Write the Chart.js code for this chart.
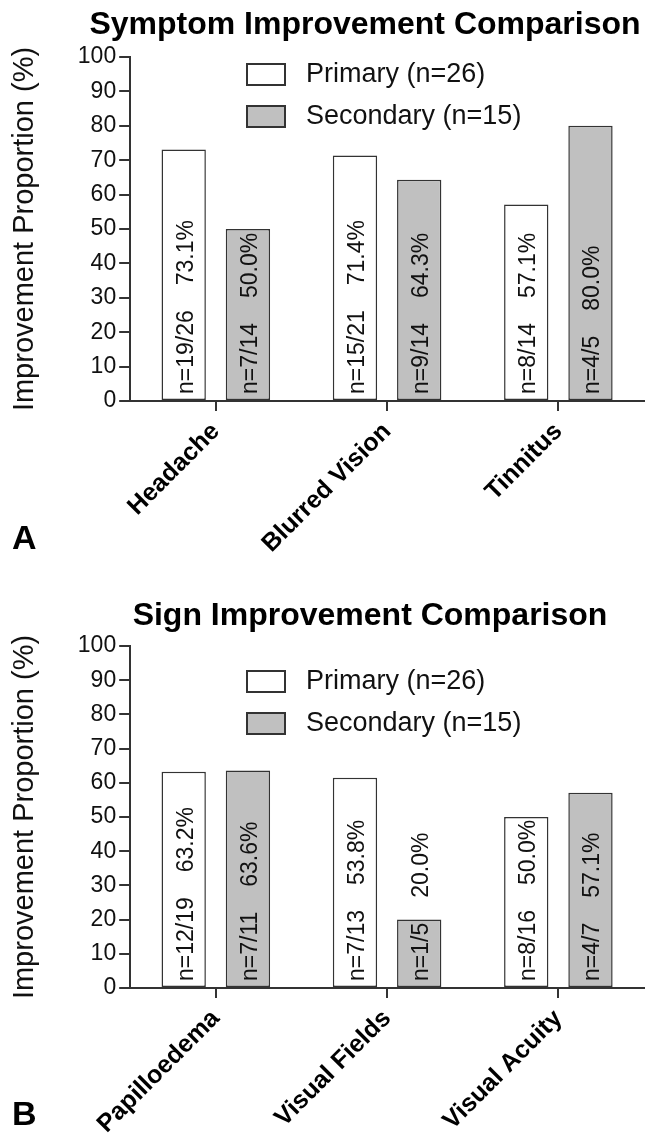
<!DOCTYPE html>
<html>
<head>
<meta charset="utf-8">
<title>Symptom and Sign Improvement Comparison</title>
<script src="https://cdn.jsdelivr.net/npm/chart.js@4.4.1/dist/chart.umd.min.js"></script>
<style>
  body { margin: 0; background: #fff; }
  .panel { position: relative; width: 648px; overflow: hidden; }
</style>
</head>
<body>
<div class="panel" style="height:588px"><canvas id="chartA" width="648" height="588"></canvas></div>
<div class="panel" style="height:547px"><canvas id="chartB" width="648" height="547"></canvas></div>
<script>
// series names
const seriesNames = ['Primary (n=26)', 'Secondary (n=15)'];

// panel A - symptoms
const symptomCategories = ['Headache', 'Blurred Vision', 'Tinnitus'];
const symptomPrimary = [73.1, 71.4, 57.1];
const symptomSecondary = [50.0, 64.3, 80.0];
const symptomPrimaryCounts = ['n=19/26', 'n=15/21', 'n=8/14'];
const symptomPrimaryPct = ['73.1%', '71.4%', '57.1%'];
const symptomSecondaryCounts = ['n=7/14', 'n=9/14', 'n=4/5'];
const symptomSecondaryPct = ['50.0%', '64.3%', '80.0%'];

// panel B - signs (visual fields primary bar is drawn taller than its label in the figure)
const signCategories = ['Papilloedema', 'Visual Fields', 'Visual Acuity'];
const signPrimary = [63.2, 61.5, 50.0];
const signSecondary = [63.6, 20.0, 57.1];
const signPrimaryCounts = ['n=12/19', 'n=7/13', 'n=8/16'];
const signPrimaryPct = ['63.2%', '53.8%', '50.0%'];
const signSecondaryCounts = ['n=7/11', 'n=1/5', 'n=4/7'];
const signSecondaryPct = ['63.6%', '20.0%', '57.1%'];

const yMin = 0;
const yMax = 100;
const yStep = 10;

const FONT = "'Liberation Sans', Arial, Helvetica, sans-serif";
const INK = '#111';

Chart.defaults.font.family = FONT;
Chart.defaults.color = INK;

// title, panel letter and the boxed legend inside the plot
const panelDecor = {
    id: 'panelDecor',
    afterDraw(chart, args, opts) {
        const ctx = chart.ctx;
        const ca = chart.chartArea;
        ctx.save();
        ctx.fillStyle = '#000';
        ctx.textAlign = 'center';
        ctx.textBaseline = 'alphabetic';
        ctx.font = 'bold 32px ' + FONT;
        ctx.fillText(opts.title, opts.titleX, opts.titleY);

        ctx.textAlign = 'left';
        ctx.font = 'bold 34px ' + FONT;
        ctx.fillText(opts.letter, 12, opts.letterY);

        ctx.font = '27px ' + FONT;
        ctx.textBaseline = 'middle';
        chart.data.datasets.forEach((ds, i) => {
            const y = ca.top + opts.legendTop + i * 42;
            ctx.fillStyle = ds.backgroundColor;
            ctx.fillRect(247, y, 38, 21);
            ctx.lineWidth = 2;
            ctx.strokeStyle = '#333';
            ctx.strokeRect(247, y, 38, 21);
            ctx.fillStyle = INK;
            ctx.fillText(ds.label, 306, y + 11);
        });
        ctx.restore();
    }
};

// vertical "n=x/y   p%" text, anchored at the bar base
const barText = {
    id: 'barText',
    afterDatasetsDraw(chart, args, opts) {
        const ctx = chart.ctx;
        ctx.save();
        ctx.font = '23px ' + FONT;
        ctx.fillStyle = INK;
        ctx.textAlign = 'left';
        ctx.textBaseline = 'alphabetic';
        chart.data.datasets.forEach((ds, i) => {
            chart.getDatasetMeta(i).data.forEach((bar, j) => {
                ctx.save();
                ctx.translate(bar.x + 9, bar.base - 6);
                ctx.rotate(-Math.PI / 2);
                const n = ds.counts[j];
                ctx.fillText(n, 0, 0);
                const w = ctx.measureText(n).width;
                ctx.fillText(ds.pct[j], w + 25, 0);
                ctx.restore();
            });
        });
        ctx.restore();
    }
};

function makeChart(id, labels, primary, secondary, texts, decor, xHeight) {
    return new Chart(document.getElementById(id), {
        type: 'bar',
        data: {
            labels: labels,
            datasets: [{
                label: seriesNames[0],
                data: primary,
                counts: texts[0],
                pct: texts[1],
                backgroundColor: '#ffffff',
                borderColor: '#333',
                borderWidth: 1.5,
                borderSkipped: false,
                categoryPercentage: 0.75,
                barPercentage: 0.69
            }, {
                label: seriesNames[1],
                data: secondary,
                counts: texts[2],
                pct: texts[3],
                backgroundColor: '#c0c0c0',
                borderColor: '#333',
                borderWidth: 1.5,
                borderSkipped: false,
                categoryPercentage: 0.75,
                barPercentage: 0.69
            }]
        },
        options: {
            responsive: false,
            animation: false,
            layout: {
                padding: { top: decor.areaTop, right: 4, bottom: 0, left: 0 }
            },
            plugins: {
                legend: { display: false },
                tooltip: { enabled: false },
                title: { display: false },
                panelDecor: decor
            },
            scales: {
                x: {
                    // fixed height so the rotated labels may run off the bottom like the figure
                    afterFit: (scale) => { scale.height = xHeight; },
                    grid: {
                        offset: false,
                        drawOnChartArea: false,
                        tickLength: 10,
                        lineWidth: 2,
                        color: '#333'
                    },
                    border: { color: '#333', width: 2 },
                    ticks: {
                        maxRotation: 45,
                        minRotation: 45,
                        padding: 6,
                        color: '#000',
                        font: { size: 25, weight: 'bold' }
                    }
                },
                y: {
                    min: yMin,
                    max: yMax,
                    grid: {
                        drawOnChartArea: false,
                        tickLength: 11,
                        lineWidth: 2,
                        color: '#333'
                    },
                    border: { color: '#333', width: 2 },
                    ticks: {
                        stepSize: yStep,
                        padding: 3,
                        font: { size: 23 }
                    },
                    title: {
                        display: true,
                        text: 'Improvement Proportion (%)',
                        font: { size: 29 },
                        padding: { top: 8, bottom: 32 }
                    }
                }
            }
        },
        plugins: [barText, panelDecor]
    });
}

makeChart('chartA', symptomCategories, symptomPrimary, symptomSecondary,
    [symptomPrimaryCounts, symptomPrimaryPct, symptomSecondaryCounts, symptomSecondaryPct],
    { title: 'Symptom Improvement Comparison', titleX: 365, titleY: 34, letter: 'A', letterY: 549, legendTop: 7, areaTop: 57 },
    187);

makeChart('chartB', signCategories, signPrimary, signSecondary,
    [signPrimaryCounts, signPrimaryPct, signSecondaryCounts, signSecondaryPct],
    { title: 'Sign Improvement Comparison', titleX: 370, titleY: 37, letter: 'B', letterY: 537, legendTop: 25, areaTop: 58 },
    147);
</script>
</body>
</html>
